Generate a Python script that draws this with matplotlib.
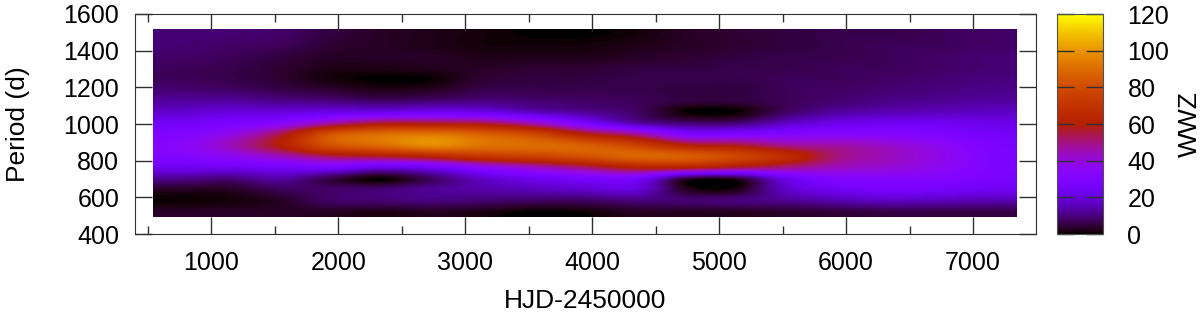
import numpy as np
import matplotlib
matplotlib.use('Agg')
import matplotlib.pyplot as plt
from matplotlib.colors import ListedColormap
from matplotlib.ticker import MultipleLocator

plt.rcParams['font.family'] = ['Liberation Sans', 'DejaVu Sans']

# grid centres (d)
hjd = [740, 1140, 1540, 1940, 2340, 2740, 3140, 3540, 3940,
       4340, 4740, 5140, 5540, 5940, 6340, 6740, 7140]
period = [1480, 1420, 1360, 1300, 1240, 1180, 1120, 1060, 1000,
          940, 880, 820, 760, 700, 640, 580, 520]

# one list per hjd column, top row first
c0740 = [9, 9, 8, 7, 7, 9, 13, 18, 25, 31, 34, 32, 24, 12, 3, 0.5, 3]
c1140 = [9, 8, 7, 6, 6, 8, 13, 20, 28, 38, 44, 36, 24, 10, 3, 1, 3]
c1540 = [8, 7, 5, 4, 4, 6, 11, 20, 33, 54, 60, 44, 26, 14, 7, 3, 3]
c1940 = [5, 4, 3, 2, 1, 4, 10, 22, 46, 82, 82, 54, 28, 6, 8, 8, 3]
c2340 = [3, 3, 3, 2, 0.3, 2, 8, 22, 56, 90, 90, 58, 22, 0.5, 9, 9, 2]
c2740 = [2, 2, 3, 2.5, 0.5, 3, 9, 24, 56, 92, 98, 64, 26, 8, 12, 10, 3]
c3140 = [1, 1, 2, 3, 4, 6, 10, 22, 54, 86, 92, 72, 36, 18, 14, 9, 2]
c3540 = [0.3, 1, 2, 4, 5, 6, 9, 16, 44, 78, 90, 76, 44, 24, 16, 8, 0.3]
c3940 = [0.3, 1, 2, 4, 5, 6, 8, 12, 28, 60, 86, 82, 52, 28, 18, 8, 1]
c4340 = [1, 2, 3, 5, 6, 6, 7, 8, 14, 48, 76, 88, 62, 28, 20, 10, 3]
c4740 = [3, 3, 4, 5, 6, 5, 5, 0.5, 9, 30, 60, 86, 62, 6, 3, 9, 3]
c5140 = [4, 4, 5, 6, 6, 5, 5, 0.5, 9, 30, 56, 78, 56, 5, 2, 10, 3]
c5540 = [5, 5, 6, 6, 7, 7, 7, 8, 17, 32, 48, 66, 50, 24, 18, 12, 4]
c5940 = [6, 6, 6, 7, 7, 8, 9, 13, 22, 33, 46, 50, 44, 32, 24, 15, 5]
c6340 = [6, 7, 7, 7, 8, 9, 11, 15, 24, 32, 42, 44, 41, 33, 27, 17, 6]
c6740 = [7, 7, 8, 8, 9, 10, 12, 16, 24, 30, 36, 38, 36, 32, 26, 16, 6]
c7140 = [8, 8, 9, 9, 10, 11, 13, 17, 22, 26, 29, 30, 30, 28, 24, 15, 6]

wwz = np.array([c0740, c1140, c1540, c1940, c2340, c2740, c3140, c3540, c3940,
                c4340, c4740, c5140, c5540, c5940, c6340, c6740, c7140]).T

# gnuplot's default palette (rgbformulae 7,5,15)
t = np.linspace(0, 1, 256)
pal = np.column_stack([np.sqrt(t), t**3, np.clip(np.sin(2*np.pi*t), 0, 1)])
cmap = ListedColormap(pal)

fig = plt.figure(figsize=(12, 3.14), dpi=100)
W, H = 1200., 314.
ax = fig.add_axes([134.5/W, 1-234/H, (1036-134.5)/W, 220/H])

dx = (hjd[1]-hjd[0])/2.
dy = (period[0]-period[1])/2.
ext = [hjd[0]-dx, hjd[-1]+dx, period[-1]-dy, period[0]+dy]
im = ax.imshow(wwz, extent=ext, origin='upper', aspect='auto', cmap=cmap,
               vmin=0, vmax=120, interpolation='catrom')

ax.set_xlim(395, 7495)
ax.set_ylim(400, 1600)
ax.xaxis.set_major_locator(MultipleLocator(1000))
ax.xaxis.set_minor_locator(MultipleLocator(500))
ax.yaxis.set_major_locator(MultipleLocator(200))
ax.tick_params(which='major', direction='in', length=12, width=1, top=True, right=True,
               labelsize=18, pad=11, color='#303030')
ax.tick_params(which='major', axis='x', pad=12)
ax.tick_params(which='minor', direction='in', length=6, width=1, top=True, color='#303030')
for s in ax.spines.values():
    s.set_color('#303030')
ax.set_xlabel('HJD-2450000', fontsize=19)
ax.xaxis.set_label_coords(0.5, -55/220.)
ax.set_ylabel('Period (d)', fontsize=19)
ax.yaxis.set_label_coords((30-134.5)/901.5, 0.5)

cax = fig.add_axes([1057/W, 1-234/H, 45.5/W, 220/H])
cb = fig.colorbar(im, cax=cax)
cb.set_ticks(np.arange(0, 121, 20))
cb.outline.set_edgecolor('#505050')
cax.tick_params(direction='in', length=12, width=1, left=True, right=True,
                labelsize=18, pad=18, color='#303030')
cb.set_label('WWZ', fontsize=19)
cax.yaxis.set_label_coords((1178-1057)/45.5, 0.5)

fig.savefig('out.png', dpi=100)
